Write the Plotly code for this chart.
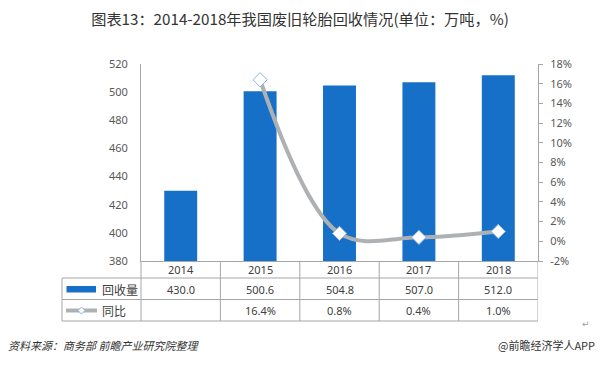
import plotly.graph_objects as go

years = ["2014", "2015", "2016", "2017", "2018"]
recovery = [430.0, 500.6, 504.8, 507.0, 512.0]
yoy = [None, 16.4, 0.8, 0.4, 1.0]
recovery_labels = ["430.0", "500.6", "504.8", "507.0", "512.0"]
yoy_labels = ["", "16.4%", "0.8%", "0.4%", "1.0%"]
left_ticks = [380, 400, 420, 440, 460, 480, 500, 520]
right_ticks = [-2, 0, 2, 4, 6, 8, 10, 12, 14, 16, 18]

W, H = 600, 367
L, R, T, B = 141, 538, 64, 261  # plot area in pixels


def px(x):
    return (x - L) / (R - L)


def py(y):
    return (B - y) / (B - T)


BAR = "#1670C8"
LINE = "#AEB1B4"
GRID = "#A6A6A6"
TXT = "#404040"
CJK = "Noto Sans CJK SC"

fig = go.Figure()
fig.add_trace(go.Bar(x=years, y=recovery, marker=dict(color=BAR, line=dict(width=0)),
                     name="回收量", yaxis="y"))
fig.add_trace(go.Scatter(x=years, y=yoy, mode="lines+markers", name="同比", yaxis="y2",
                         line=dict(color=LINE, width=4, shape="spline", smoothing=1.0),
                         marker=dict(symbol="diamond", size=11, color="white",
                                     line=dict(color="#8DB4E2", width=1))))

shapes = []
annotations = []
# table lines
tl = dict(color=GRID, width=1)
y278, y300, y321 = py(278), py(299.5), py(321)
for yy in (y278, y300, y321):
    shapes.append(dict(type="line", xref="paper", yref="paper", x0=px(62), x1=1, y0=yy, y1=yy, line=tl))
shapes.append(dict(type="line", xref="paper", yref="paper", x0=px(62), x1=px(62), y0=y278, y1=y321, line=tl))
shapes.append(dict(type="line", xref="paper", yref="paper", x0=0, x1=0, y0=0, y1=y321, line=tl))
for i in range(len(years)):
    shapes.append(dict(type="line", xref="x", yref="paper", x0=i + 0.5, x1=i + 0.5, y0=0, y1=y321, line=tl))

# legend keys
shapes.append(dict(type="rect", xref="paper", yref="paper", x0=px(66.5), x1=px(96), y0=py(286), y1=py(292.5),
                   fillcolor=BAR, line=dict(width=0)))
shapes.append(dict(type="line", xref="paper", yref="paper", x0=px(66), x1=px(97), y0=py(310.5), y1=py(310.5),
                   line=dict(color=LINE, width=4)))
cx, cy = px(81.5), py(310.5)
dx, dy = 3.5 / (R - L), 3.5 / (B - T)
shapes.append(dict(type="path", xref="paper", yref="paper",
                   path=f"M {cx - dx} {cy} L {cx} {cy + dy} L {cx + dx} {cy} L {cx} {cy - dy} Z",
                   fillcolor="white", line=dict(color="#8DB4E2", width=1)))

rowfont = dict(family="Noto Sans, " + CJK, size=11, color=TXT)
for i, yv in enumerate(years):
    annotations.append(dict(x=i, xref="x", y=py(269.5), yref="paper", text=yv, showarrow=False,
                            font=rowfont, xanchor="center", yanchor="middle"))
    annotations.append(dict(x=i, xref="x", y=py(289), yref="paper", text=recovery_labels[i], showarrow=False,
                            font=rowfont, xanchor="center", yanchor="middle"))
    if yoy_labels[i]:
        annotations.append(dict(x=i, xref="x", y=py(310.5), yref="paper", text=yoy_labels[i], showarrow=False,
                                font=rowfont, xanchor="center", yanchor="middle"))
annotations.append(dict(x=px(100), xref="paper", y=py(289), yref="paper", text="回收量", showarrow=False,
                        font=dict(family=CJK, size=12, color=TXT), xanchor="left", yanchor="middle"))
annotations.append(dict(x=px(100), xref="paper", y=py(310.5), yref="paper", text="同比", showarrow=False,
                        font=dict(family=CJK, size=12, color=TXT), xanchor="left", yanchor="middle"))

# footer
annotations.append(dict(x=px(6), xref="paper", y=py(345), yref="paper", text="<i>资料来源：商务部 前瞻产业研究院整理</i>",
                        showarrow=False, font=dict(family=CJK, size=11, color="#333333"),
                        xanchor="left", yanchor="middle"))
annotations.append(dict(x=px(597), xref="paper", y=py(345), yref="paper", text="@前瞻经济学人APP",
                        showarrow=False, font=dict(family=CJK, size=11, color="#333333"),
                        xanchor="right", yanchor="middle"))
annotations.append(dict(x=px(586), xref="paper", y=py(324), yref="paper", text="↵",
                        showarrow=False, font=dict(family="DejaVu Sans", size=9, color="#9A9A9A"),
                        xanchor="center", yanchor="middle"))

fig.update_layout(
    width=W, height=H,
    margin=dict(l=L, r=W - R, t=T, b=H - B, pad=0, autoexpand=False),
    paper_bgcolor="white", plot_bgcolor="white",
    showlegend=False,
    bargap=0.585,
    title=dict(text="图表13：2014-2018年我国废旧轮胎回收情况(单位：万吨，%)", x=0.5, xanchor="center",
               xref="container", y=1 - 20 / H, yref="container", yanchor="middle",
               font=dict(family=CJK, size=15.2, color="#333333")),
    xaxis=dict(type="category", range=[-0.5, 4.5], showticklabels=False, showline=True, linecolor=GRID,
               linewidth=1, showgrid=False, zeroline=False, ticks="", automargin=False),
    yaxis=dict(range=[380, 520], tickvals=left_ticks, showline=True, linecolor=GRID, linewidth=1,
               showgrid=False, zeroline=False, ticks="", ticklabelstandoff=10, automargin=False,
               tickfont=dict(family="Noto Sans", size=11, color="#595959")),
    yaxis2=dict(range=[-2, 18], tickvals=right_ticks, ticktext=[f"{v}%" for v in right_ticks],
                overlaying="y", side="right", showline=True, linecolor=GRID, linewidth=1,
                showgrid=False, zeroline=False, ticks="outside", ticklen=4, tickcolor=GRID,
                ticklabelstandoff=5, automargin=False,
                tickfont=dict(family="Noto Sans", size=11, color="#595959")),
    shapes=shapes,
    annotations=annotations,
)

fig.write_html("out.html", config={"displayModeBar": False},
               post_script="document.body.style.margin='0';document.body.style.padding='0';")
